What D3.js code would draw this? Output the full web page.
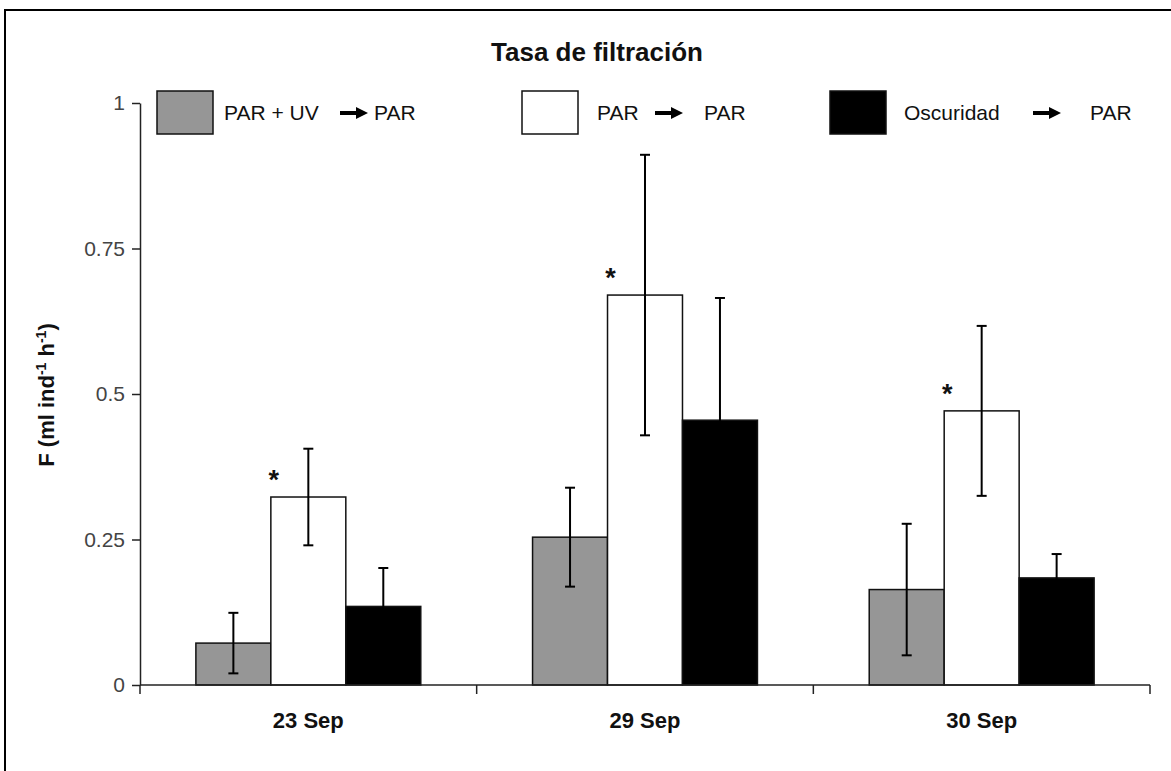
<!DOCTYPE html>
<html>
<head>
<meta charset="utf-8">
<script src="https://cdn.jsdelivr.net/npm/d3@7"></script>
<style>
  html, body { margin: 0; padding: 0; background: #fff; }
  svg { display: block; font-family: "Liberation Sans", Arial, sans-serif; }
</style>
</head>
<body>
<svg id="chart" width="1171" height="771"></svg>
<script>
// Filtration rate per date and light treatment (mean and error)
const categories = ["23 Sep", "29 Sep", "30 Sep"];
const seriesKeys = ["parUv", "par", "dark"];
const legendFrom = ["PAR + UV", "PAR", "Oscuridad"];
const legendTo = ["PAR", "PAR", "PAR"];
const parUvValues = [0.072, 0.254, 0.164];
const parUvErrors = [0.052, 0.085, 0.113];
const parValues = [0.323, 0.670, 0.471];
const parErrors = [0.083, 0.241, 0.146];
const darkValues = [0.135, 0.455, 0.184];
const darkErrors = [0.066, 0.210, 0.041];
const significant = ["par"];            // series marked with an asterisk on every date
const yTickValues = [0, 0.25, 0.5, 0.75, 1];
const yTickLabels = ["0", "0.25", "0.5", "0.75", "1"];
const seriesFill = { parUv: "#969696", par: "#ffffff", dark: "#000000" };

const valuesByKey = { parUv: parUvValues, par: parValues, dark: darkValues };
const errorsByKey = { parUv: parUvErrors, par: parErrors, dark: darkErrors };

const svg = d3.select("#chart");

// Outer frame
svg.append("rect")
  .attr("x", 5).attr("y", 10)
  .attr("width", 1200).attr("height", 800)
  .attr("fill", "none").attr("stroke", "#000").attr("stroke-width", 2);

const plot = { left: 140, right: 1150, top: 103, bottom: 685 };

const x0 = d3.scaleBand().domain(categories).range([plot.left, plot.right]).padding(0);
const groupFrac = 0.668;
const x1 = d3.scaleBand().domain(seriesKeys)
  .range([x0.bandwidth() * (1 - groupFrac) / 2, x0.bandwidth() * (1 + groupFrac) / 2])
  .padding(0);
const y = d3.scaleLinear().domain([0, 1]).range([plot.bottom, plot.top]);

// Title
svg.append("text")
  .attr("x", 597).attr("y", 61)
  .attr("text-anchor", "middle")
  .attr("font-size", 26).attr("font-weight", "bold")
  .attr("fill", "#111")
  .text("Tasa de filtración");

// Y axis
const yAxis = d3.axisLeft(y)
  .tickValues(yTickValues)
  .tickFormat((d, i) => yTickLabels[i])
  .tickSize(8).tickSizeOuter(0).tickPadding(7);
const gy = svg.append("g")
  .attr("transform", `translate(${plot.left},0)`)
  .call(yAxis);
gy.select(".domain").attr("stroke", "#222").attr("stroke-width", 1.5);
gy.selectAll(".tick line").attr("stroke", "#222").attr("stroke-width", 1.5);
gy.selectAll(".tick text")
  .attr("font-size", 21).attr("fill", "#444")
  .attr("font-family", "'Liberation Sans', Arial, sans-serif");

// Y axis title
const yTitle = svg.append("text")
  .attr("transform", "translate(54,395) rotate(-90)")
  .attr("text-anchor", "middle")
  .attr("font-size", 22).attr("font-weight", "bold").attr("fill", "#111");
yTitle.append("tspan").text("F (ml ind");
yTitle.append("tspan").attr("baseline-shift", "super").attr("font-size", 14).text("-1");
yTitle.append("tspan").text(" h");
yTitle.append("tspan").attr("baseline-shift", "super").attr("font-size", 14).text("-1");
yTitle.append("tspan").text(")");

// Bars
const groups = svg.append("g").selectAll("g")
  .data(categories)
  .join("g")
  .attr("transform", d => `translate(${x0(d)},0)`);

const barData = ci => seriesKeys.map(k => ({
  key: k, value: valuesByKey[k][ci], err: errorsByKey[k][ci]
}));

groups.each(function (cat, ci) {
  const g = d3.select(this);
  const data = barData(ci);

  g.selectAll("rect.bar")
    .data(data)
    .join("rect")
    .attr("class", "bar")
    .attr("x", d => x1(d.key))
    .attr("y", d => y(d.value))
    .attr("width", x1.bandwidth())
    .attr("height", d => y(0) - y(d.value))
    .attr("fill", d => seriesFill[d.key])
    .attr("stroke", "#111").attr("stroke-width", 1.5);

  // Error bars
  const eb = g.selectAll("g.err")
    .data(data)
    .join("g")
    .attr("class", "err")
    .attr("stroke", "#000").attr("stroke-width", 2);
  const cx = d => x1(d.key) + x1.bandwidth() / 2;
  const hi = d => y(d.value + d.err);
  const lo = d => y(Math.max(0, d.value - d.err));
  eb.append("line")
    .attr("x1", cx).attr("x2", cx)
    .attr("y1", hi).attr("y2", lo);
  eb.append("line")
    .attr("x1", d => cx(d) - 5).attr("x2", d => cx(d) + 5)
    .attr("y1", hi).attr("y2", hi);
  eb.append("line")
    .attr("x1", d => cx(d) - 5).attr("x2", d => cx(d) + 5)
    .attr("y1", lo).attr("y2", lo);

  // Significance asterisks
  g.selectAll("text.star")
    .data(data.filter(d => significant.includes(d.key)))
    .join("text")
    .attr("class", "star")
    .attr("x", d => x1(d.key) + 3)
    .attr("y", d => y(d.value) - 8)
    .attr("text-anchor", "middle")
    .attr("font-size", 27).attr("font-weight", "bold").attr("fill", "#111")
    .text("*");
});

// X axis line and ticks at group boundaries
const xAxisG = svg.append("g");
xAxisG.append("line")
  .attr("x1", plot.left).attr("x2", plot.right)
  .attr("y1", plot.bottom).attr("y2", plot.bottom)
  .attr("stroke", "#222").attr("stroke-width", 1.5);
const boundaries = categories.map(c => x0(c)).concat([x0(categories[categories.length - 1]) + x0.bandwidth()]);
xAxisG.selectAll("line.tick")
  .data(boundaries)
  .join("line")
  .attr("class", "tick")
  .attr("x1", d => d).attr("x2", d => d)
  .attr("y1", plot.bottom).attr("y2", plot.bottom + 9)
  .attr("stroke", "#222").attr("stroke-width", 1.5);
xAxisG.selectAll("text")
  .data(categories)
  .join("text")
  .attr("x", d => x0(d) + x0.bandwidth() / 2)
  .attr("y", 728)
  .attr("text-anchor", "middle")
  .attr("font-size", 22).attr("font-weight", "bold").attr("fill", "#111")
  .text(d => d);

// Legend
const legendLayout = [
  { box: 157, from: 224, arrow: 340, to: 374 },
  { box: 522, from: 597, arrow: 655, to: 704 },
  { box: 830, from: 904, arrow: 1033, to: 1090 }
];
const legend = svg.append("g");
seriesKeys.forEach((k, i) => {
  const L = legendLayout[i];
  legend.append("rect")
    .attr("x", L.box).attr("y", 91)
    .attr("width", 56).attr("height", 43)
    .attr("fill", seriesFill[k]).attr("stroke", "#111").attr("stroke-width", 1.5);
  legend.append("text")
    .attr("x", L.from).attr("y", 120)
    .attr("font-size", 21).attr("fill", "#111")
    .text(legendFrom[i]);
  legend.append("line")
    .attr("x1", L.arrow).attr("x2", L.arrow + 18)
    .attr("y1", 113).attr("y2", 113)
    .attr("stroke", "#000").attr("stroke-width", 4);
  legend.append("path")
    .attr("d", `M${L.arrow + 16},107 L${L.arrow + 28},113 L${L.arrow + 16},119 Z`)
    .attr("fill", "#000");
  legend.append("text")
    .attr("x", L.to).attr("y", 120)
    .attr("font-size", 21).attr("fill", "#111")
    .text(legendTo[i]);
});
</script>
</body>
</html>
